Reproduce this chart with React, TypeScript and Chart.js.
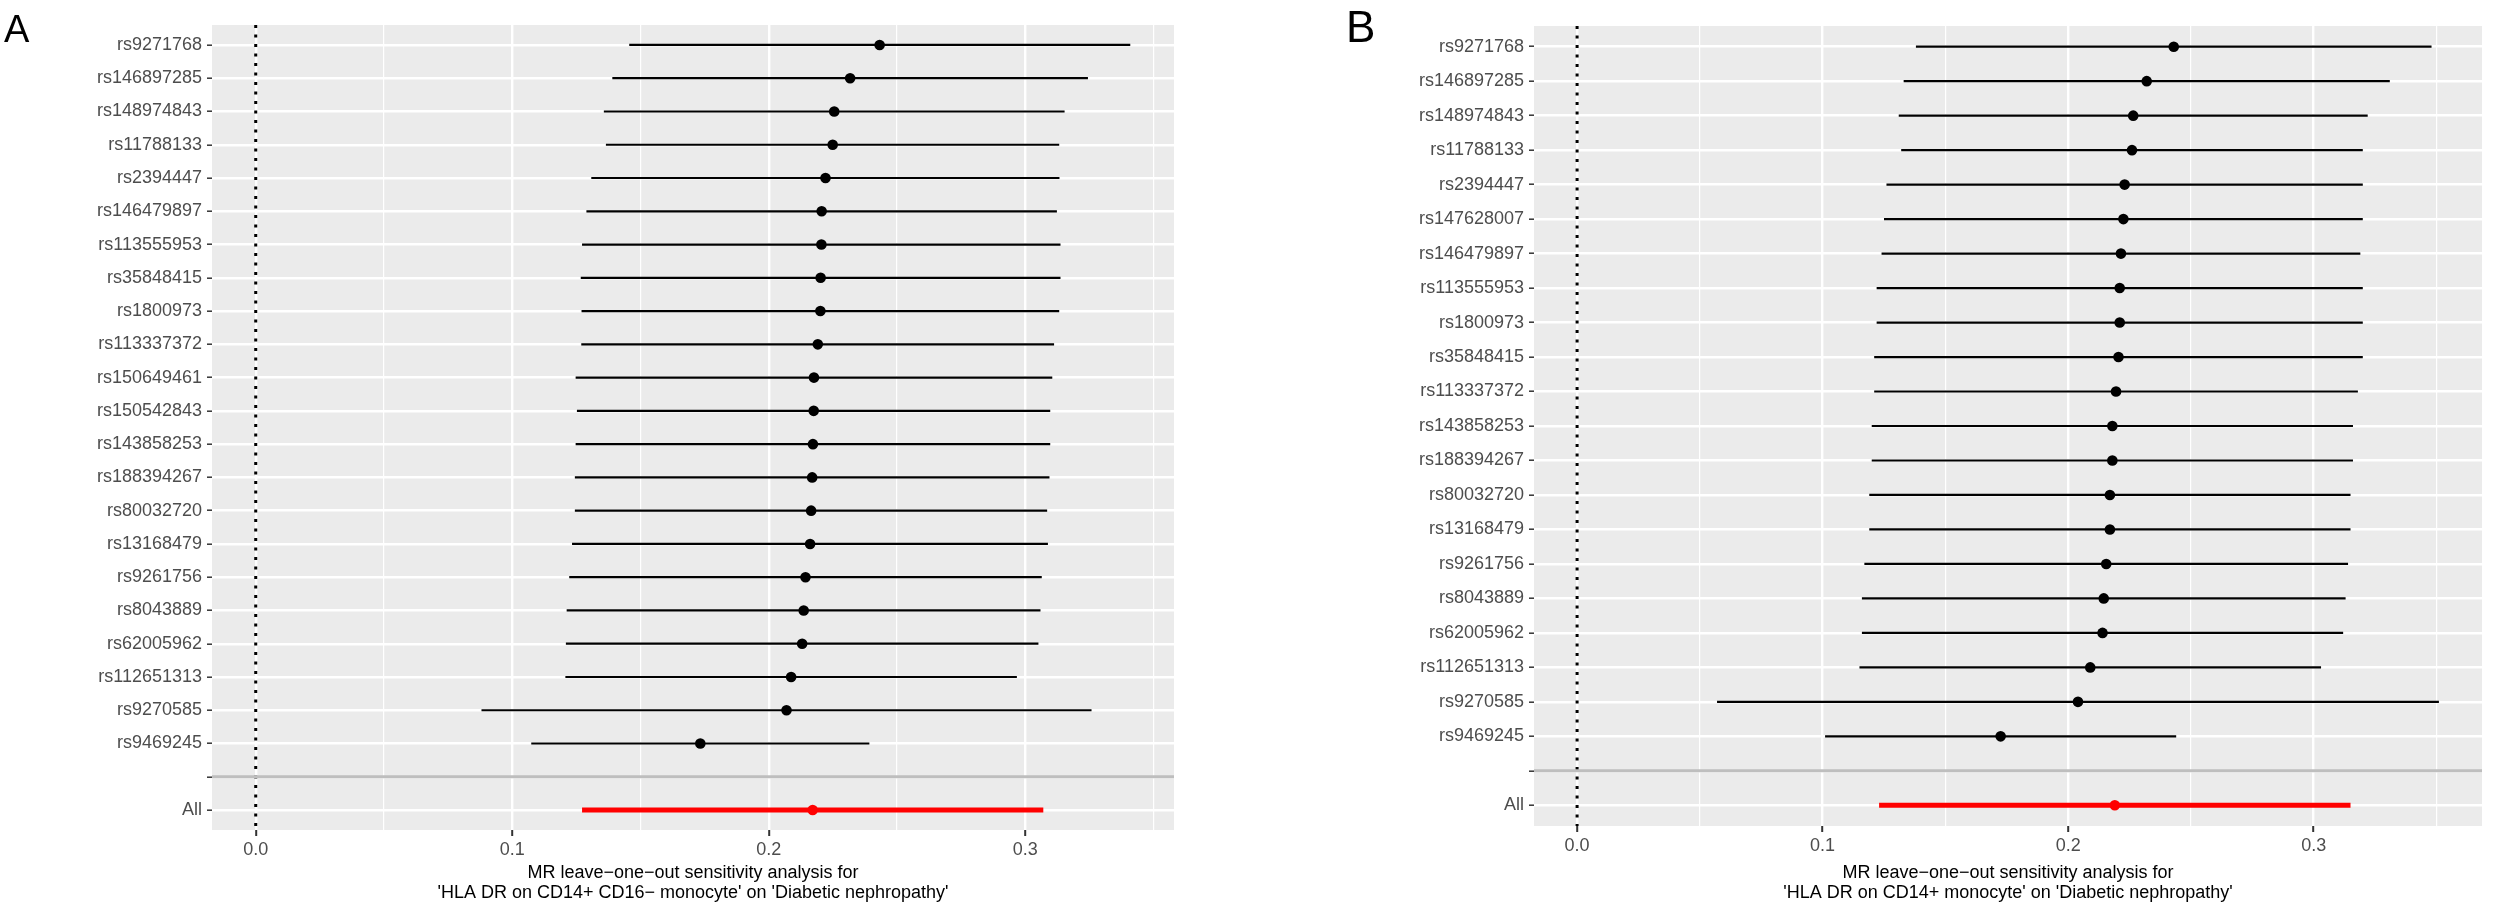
import React, { useEffect, useRef } from "react";
import { Chart, registerables } from "chart.js";

Chart.register(...registerables);

// ---------- Panel A data ----------
const snpsA = [
  "rs9271768", "rs146897285", "rs148974843", "rs11788133", "rs2394447",
  "rs146479897", "rs113555953", "rs35848415", "rs1800973", "rs113337372",
  "rs150649461", "rs150542843", "rs143858253", "rs188394267", "rs80032720",
  "rs13168479", "rs9261756", "rs8043889", "rs62005962", "rs112651313",
  "rs9270585", "rs9469245",
];
const lowerA = [
  0.1456, 0.1390, 0.1357, 0.1365, 0.1308, 0.1289, 0.1272, 0.1267, 0.1270, 0.1269,
  0.1247, 0.1252, 0.1247, 0.1244, 0.1244, 0.1233, 0.1222, 0.1212, 0.1209, 0.1207,
  0.0880, 0.1074,
];
const upperA = [
  0.3409, 0.3244, 0.3153, 0.3132, 0.3133, 0.3123, 0.3137, 0.3137, 0.3132, 0.3112,
  0.3105, 0.3097, 0.3097, 0.3094, 0.3085, 0.3088, 0.3064, 0.3059, 0.3051, 0.2967,
  0.3258, 0.2392,
];
const estA = [
  0.2432, 0.2317, 0.2255, 0.2249, 0.2221, 0.2206, 0.2205, 0.2202, 0.2201, 0.2191,
  0.2176, 0.2175, 0.2172, 0.2169, 0.2165, 0.2161, 0.2143, 0.2136, 0.2130, 0.2087,
  0.2069, 0.1733,
];
const allA = { lower: 0.1272, est: 0.2171, upper: 0.3070 };
const titleA = [
  "MR leave\u2212one\u2212out sensitivity analysis for",
  "'HLA DR on CD14+ CD16\u2212 monocyte' on 'Diabetic nephropathy'",
];

// ---------- Panel B data ----------
const snpsB = [
  "rs9271768", "rs146897285", "rs148974843", "rs11788133", "rs2394447",
  "rs147628007", "rs146479897", "rs113555953", "rs1800973", "rs35848415",
  "rs113337372", "rs143858253", "rs188394267", "rs80032720", "rs13168479",
  "rs9261756", "rs8043889", "rs62005962", "rs112651313", "rs9270585",
  "rs9469245",
];
const lowerB = [
  0.138, 0.133, 0.131, 0.132, 0.126, 0.125, 0.124, 0.122, 0.122, 0.121,
  0.121, 0.120, 0.120, 0.119, 0.119, 0.117, 0.116, 0.116, 0.115, 0.057,
  0.101,
];
const upperB = [
  0.348, 0.331, 0.322, 0.320, 0.320, 0.320, 0.319, 0.320, 0.320, 0.320,
  0.318, 0.316, 0.316, 0.315, 0.315, 0.314, 0.313, 0.312, 0.303, 0.351,
  0.244,
];
const estB = [
  0.243, 0.232, 0.2265, 0.226, 0.223, 0.2225, 0.2215, 0.221, 0.221, 0.2205,
  0.2195, 0.218, 0.218, 0.217, 0.217, 0.2155, 0.2145, 0.214, 0.209, 0.204,
  0.1725,
];
const allB = { lower: 0.123, est: 0.219, upper: 0.315 };
const titleB = [
  "MR leave\u2212one\u2212out sensitivity analysis for",
  "'HLA DR on CD14+ monocyte' on 'Diabetic nephropathy'",
];

// ---------- shared axis ticks ----------
const xTicks = [0, 0.05, 0.1, 0.15, 0.2, 0.25, 0.3, 0.35];
const xTickLabels = ["0.0", "", "0.1", "", "0.2", "", "0.3", ""];

const FONT = "'Liberation Sans', Arial, sans-serif";
const H = 914;

const panelBg = {
  id: "panelBg",
  beforeDraw(chart: any) {
    const { ctx, chartArea } = chart;
    if (!chartArea) return;
    ctx.save();
    ctx.fillStyle = "#EBEBEB";
    ctx.fillRect(chartArea.left, chartArea.top, chartArea.right - chartArea.left, chartArea.bottom - chartArea.top);
    ctx.restore();
  },
};

type PanelProps = {
  left: number;
  width: number;
  yAxisWidth: number;
  padTop: number;
  padRight: number;
  xAxisHeight: number;
  snps: string[];
  lower: number[];
  upper: number[];
  est: number[];
  all: { lower: number; est: number; upper: number };
  title: string[];
};

function ForestPanel(p: PanelProps) {
  const ref = useRef<HTMLCanvasElement>(null);
  useEffect(() => {
    const labels = [...p.snps, "", "All"];
    const n = labels.length;
    const blankPos = p.snps.length + 1;
    const allPos = p.snps.length + 2;
    const hi = Math.max(...p.upper, p.all.upper);
    const xMin = -0.05 * hi;
    const xMax = 1.05 * hi;
    const yMin = 0.4;
    const yMax = n + 0.6;

    const datasets: any[] = [];
    datasets.push({
      data: [
        ...p.est.map((v, i) => ({ x: v, y: i + 1 })),
        { x: p.all.est, y: allPos },
      ],
      pointRadius: 5.3,
      pointBorderWidth: 0,
      pointBackgroundColor: [...p.est.map(() => "#000000"), "#FF0000"],
      pointBorderColor: "rgba(0,0,0,0)",
      showLine: false,
      order: 0,
    });
    p.lower.forEach((lo, i) => {
      datasets.push({
        data: [{ x: lo, y: i + 1 }, { x: p.upper[i], y: i + 1 }],
        showLine: true,
        borderColor: "#000000",
        borderWidth: 2.2,
        pointRadius: 0,
        order: 1,
      });
    });
    datasets.push({
      data: [{ x: p.all.lower, y: allPos }, { x: p.all.upper, y: allPos }],
      showLine: true,
      borderColor: "#FF0000",
      borderWidth: 5,
      pointRadius: 0,
      order: 1,
    });
    datasets.push({
      data: [{ x: xMin, y: blankPos }, { x: xMax, y: blankPos }],
      showLine: true,
      borderColor: "#BEBEBE",
      borderWidth: 3,
      pointRadius: 0,
      order: 2,
    });
    datasets.push({
      data: [{ x: 0, y: yMin }, { x: 0, y: yMax }],
      showLine: true,
      borderColor: "#000000",
      borderWidth: 3,
      borderDash: [3, 6.5],
      pointRadius: 0,
      order: 3,
    });

    const isMajor = (v: number) => Math.abs(v * 10 - Math.round(v * 10)) < 1e-6;

    const chart = new Chart(ref.current as HTMLCanvasElement, {
      type: "scatter",
      data: { datasets },
      plugins: [panelBg],
      options: {
        animation: false,
        responsive: false,
        devicePixelRatio: 1,
        events: [],
        layout: { padding: { top: p.padTop, right: p.padRight, left: 0, bottom: 0 } },
        plugins: { legend: { display: false }, tooltip: { enabled: false } },
        scales: {
          x: {
            type: "linear",
            min: xMin,
            max: xMax,
            afterBuildTicks: (ax: any) => {
              ax.ticks = xTicks.filter((v) => v <= xMax).map((value) => ({ value }));
            },
            afterFit: (ax: any) => {
              ax.height = p.xAxisHeight;
            },
            border: { display: false },
            grid: {
              color: "#FFFFFF",
              lineWidth: (ctx: any) => (ctx.tick && isMajor(ctx.tick.value) ? 2.4 : 1.2),
              tickColor: (ctx: any) => (ctx.tick && isMajor(ctx.tick.value) ? "#333333" : "rgba(0,0,0,0)"),
              tickLength: 6,
              tickWidth: 2,
            },
            ticks: {
              autoSkip: false,
              maxRotation: 0,
              padding: 3,
              color: "#4D4D4D",
              font: { family: FONT, size: 18 },
              callback: (v: any) => {
                const idx = xTicks.findIndex((t) => Math.abs(t - v) < 1e-9);
                return idx >= 0 ? xTickLabels[idx] : "";
              },
            },
            title: {
              display: true,
              text: p.title,
              color: "#000000",
              font: { family: FONT, size: 18, lineHeight: 1.111 },
              padding: { top: 0, bottom: 11 },
            },
          },
          y: {
            type: "linear",
            reverse: true,
            min: yMin,
            max: yMax,
            afterBuildTicks: (ax: any) => {
              ax.ticks = labels.map((_, i) => ({ value: i + 1 }));
            },
            afterFit: (ax: any) => {
              ax.width = p.yAxisWidth;
            },
            border: { display: false },
            grid: {
              color: "#FFFFFF",
              lineWidth: 2.4,
              tickColor: "#333333",
              tickLength: 5,
              tickWidth: 1.5,
            },
            ticks: {
              autoSkip: false,
              padding: 5,
              color: "#4D4D4D",
              font: { family: FONT, size: 18 },
              callback: (v: any) => labels[Math.round(v) - 1] ?? "",
            },
          },
        },
      },
    } as any);
    return () => chart.destroy();
  }, []);
  return (
    <canvas
      ref={ref}
      width={p.width}
      height={H}
      style={{ position: "absolute", left: p.left, top: 0, width: p.width, height: H }}
    />
  );
}

export default function App() {
  return (
    <div style={{ position: "absolute", left: 0, top: 0, width: 2500, height: H, background: "#FFFFFF", overflow: "hidden" }}>
      <ForestPanel
        left={0}
        width={1250}
        yAxisWidth={212}
        padTop={25}
        padRight={76}
        xAxisHeight={84}
        snps={snpsA}
        lower={lowerA}
        upper={upperA}
        est={estA}
        all={allA}
        title={titleA}
      />
      <ForestPanel
        left={1250}
        width={1250}
        yAxisWidth={284}
        padTop={26}
        padRight={18}
        xAxisHeight={88}
        snps={snpsB}
        lower={lowerB}
        upper={upperB}
        est={estB}
        all={allB}
        title={titleB}
      />
      <div style={{ position: "absolute", left: 4, top: 10, fontFamily: FONT, fontSize: 38, lineHeight: 1, color: "#000" }}>A</div>
      <div style={{ position: "absolute", left: 1346, top: 4.5, fontFamily: FONT, fontSize: 44, lineHeight: 1, color: "#000" }}>B</div>
    </div>
  );
}
